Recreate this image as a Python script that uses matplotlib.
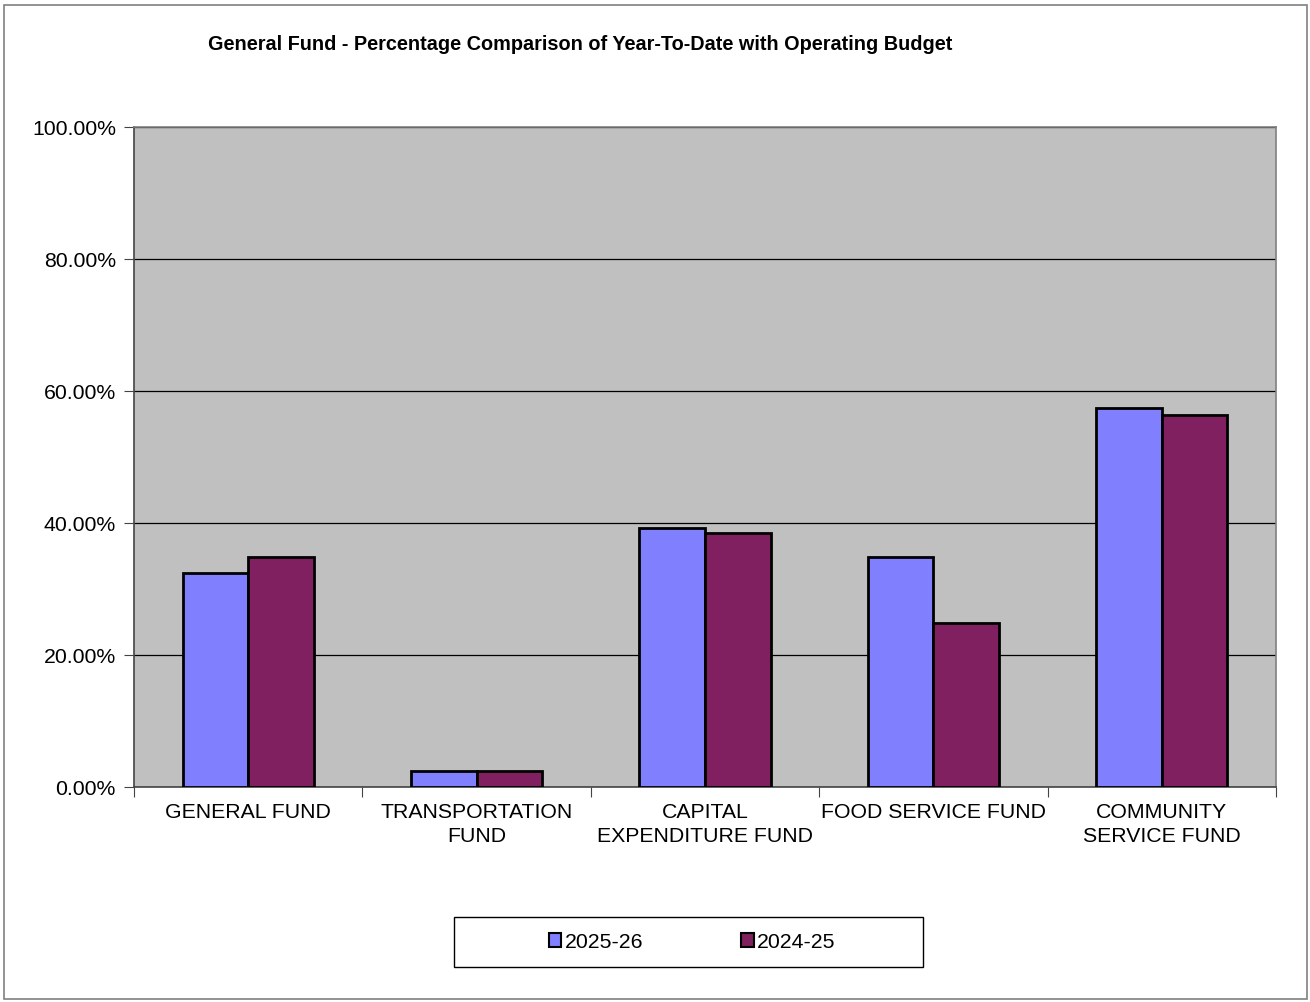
import matplotlib
matplotlib.use("Agg")
import matplotlib.pyplot as plt
import numpy as np
from matplotlib.patches import Rectangle, Patch
from matplotlib.ticker import FixedLocator, FuncFormatter

plt.rcParams['font.family'] = ['Liberation Sans', 'DejaVu Sans']

categories = ["GENERAL FUND", "TRANSPORTATION\nFUND", "CAPITAL\nEXPENDITURE FUND",
              "FOOD SERVICE FUND", "COMMUNITY\nSERVICE FUND"]
series_names = ["2025-26", "2024-25"]
values_2025_26 = [32.5, 2.5, 39.2, 34.9, 57.4]
values_2024_25 = [34.8, 2.5, 38.5, 24.8, 56.3]
y_ticks = [0, 20, 40, 60, 80, 100]
title = "General Fund - Percentage Comparison of Year-To-Date with Operating Budget"

W, H = 1310, 1003
fig = plt.figure(figsize=(W/100, H/100), dpi=100)
fig.patch.set_facecolor('white')
# outer border
fig.add_artist(Rectangle((4/W, 1-1000/H), 1303/W, 994/H, transform=fig.transFigure,
                         fill=False, edgecolor='#808080', linewidth=1.2))

left, right, top, bottom = 134, 1276, 128, 788
ax = fig.add_axes([left/W, 1-bottom/H, (right-left)/W, (bottom-top)/H])
ax.set_facecolor('#C0C0C0')

x = np.arange(len(categories))
bw = 0.287
ax.bar(x - bw/2, values_2025_26, width=bw, color='#8080FF', edgecolor='black', linewidth=2, zorder=3)
ax.bar(x + bw/2, values_2024_25, width=bw, color='#802060', edgecolor='black', linewidth=2, zorder=3)

ax.set_xlim(-0.5, len(categories) - 0.5)
ax.set_ylim(0, 100)
ax.set_yticks(y_ticks)
ax.yaxis.set_major_formatter(FuncFormatter(lambda v, p: f"{v:.2f}%"))
ax.grid(axis='y', color='black', linewidth=0.9, zorder=1)
ax.set_axisbelow(True)

ax.xaxis.set_major_locator(FixedLocator(np.arange(-0.5, len(categories), 1.0)))
ax.xaxis.set_major_formatter(FuncFormatter(lambda v, p: ""))
ax.xaxis.set_minor_locator(FixedLocator(x))
ax.set_xticklabels(categories, minor=True)
ax.tick_params(axis='x', which='minor', length=0, pad=11, labelsize=15.3)
ax.tick_params(axis='x', which='major', length=7, direction='out', color='#444444')
ax.tick_params(axis='y', length=7, direction='out', labelsize=15.3, pad=6, color='#444444')
for lbl in ax.get_xticklabels(minor=True):
    lbl.set_linespacing(1.32)
    lbl.set_verticalalignment('top')

for s in ax.spines.values():
    s.set_color('#808080')
    s.set_linewidth(1.2)
ax.spines['left'].set_color('#444444')
ax.spines['bottom'].set_color('#444444')

fig.text(580/W, 1-45/H, title, ha='center', va='center', fontsize=14.3, fontweight='bold')

# legend frame
fig.add_artist(Rectangle((454/W, 1-968/H), (923-454)/W, 50/H, transform=fig.transFigure,
                         fill=False, edgecolor='black', linewidth=1.0))
handles = [Patch(facecolor='#8080FF', edgecolor='black', linewidth=1.5),
           Patch(facecolor='#802060', edgecolor='black', linewidth=1.5)]
leg = fig.legend(handles, series_names, loc='center', bbox_to_anchor=(692/W, 1-943/H),
                 ncol=2, frameon=False, fontsize=15.3, handlelength=0.6, handleheight=0.6,
                 handletextpad=0.15, columnspacing=4.6)

fig.savefig("out.png", dpi=100)
